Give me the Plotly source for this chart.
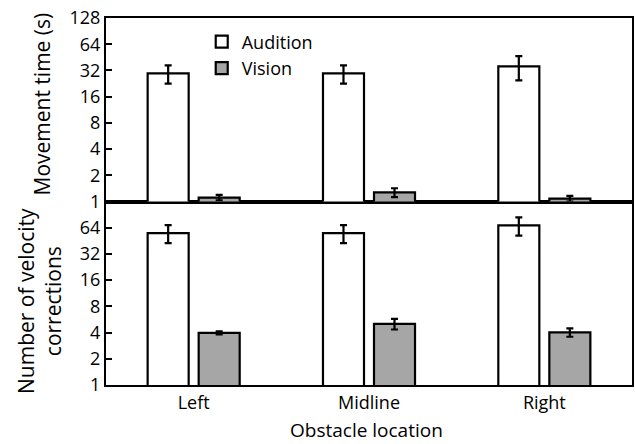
import plotly.graph_objects as go

categories = ["Left", "Midline", "Right"]
tick_vals = [1, 2, 4, 8, 16, 32, 64, 128]
tick_text_top = ["1", "2", "4", "8", "16", "32", "64", "128"]
tick_text_bottom = ["1", "2", "4", "8", "16", "32", "64", ""]

mt_audition = [29.6, 29.6, 35.6]
mt_audition_err = [7.0, 7.0, 11.0]
mt_vision = [1.11, 1.27, 1.08]
mt_vision_err = [0.08, 0.15, 0.08]

vc_audition = [55.6, 55.6, 68.0]
vc_audition_err = [13.0, 13.0, 16.0]
vc_vision = [3.97, 5.04, 4.03]
vc_vision_err = [0.15, 0.7, 0.45]

FONT = "Open Sans"
BLACK = "#000000"
GRAY = "#a6a6a6"

def bar(name, y, err, fill, xa, ya, show):
    return go.Bar(
        name=name, x=categories, y=y, xaxis=xa, yaxis=ya,
        marker=dict(color=fill, line=dict(color=BLACK, width=2.2)),
        error_y=dict(type="data", array=err, visible=True, color=BLACK,
                     thickness=2.2, width=3.5),
        showlegend=show, legendgroup=name,
    )

fig = go.Figure()
fig.add_trace(bar("Audition", mt_audition, mt_audition_err, "#ffffff", "x2", "y2", True))
fig.add_trace(bar("Vision", mt_vision, mt_vision_err, GRAY, "x2", "y2", True))
fig.add_trace(bar("Audition", vc_audition, vc_audition_err, "#ffffff", "x", "y", False))
fig.add_trace(bar("Vision", vc_vision, vc_vision_err, GRAY, "x", "y", False))

yax_common = dict(
    type="log", range=[0, 2.10721], tickvals=tick_vals,
    showline=True, linecolor=BLACK, linewidth=2.2, mirror=True,
    ticks="inside", ticklen=6, tickwidth=1.5, tickcolor=BLACK,
    showgrid=False, zeroline=False, automargin=False,
    tickfont=dict(family=FONT, size=18, color=BLACK),
)
xax_common = dict(
    showline=True, linecolor=BLACK, linewidth=2.2, mirror=True,
    showgrid=False, zeroline=False, ticks="", automargin=False,
    tickfont=dict(family=FONT, size=18, color=BLACK),
)

fig.update_layout(
    width=635, height=444,
    margin=dict(l=106, r=3, t=18, b=59),
    paper_bgcolor="white", plot_bgcolor="white",
    barmode="group", bargap=0.418, bargroupgap=0.196,
    font=dict(family=FONT, size=18, color=BLACK),
    xaxis=dict(**xax_common, anchor="y"),
    xaxis2=dict(**xax_common, anchor="y2", matches="x", showticklabels=False),
    yaxis=dict(**yax_common, domain=[0, 0.5], anchor="x", ticktext=tick_text_bottom),
    yaxis2=dict(**yax_common, domain=[0.5, 1], anchor="x2", ticktext=tick_text_top),
    legend=dict(x=0.182, y=0.985, xanchor="left", yanchor="top",
                bgcolor="rgba(0,0,0,0)", borderwidth=0,
                font=dict(family=FONT, size=18, color=BLACK),
                traceorder="grouped", tracegroupgap=0, itemwidth=30),
    annotations=[
        dict(text="Obstacle location", x=0.4953, y=-0.1226, xref="paper", yref="paper",
             xanchor="center", yanchor="middle", showarrow=False,
             font=dict(family=FONT, size=19, color=BLACK)),
        dict(text="Movement time (s)", x=-0.1217, y=0.767, xref="paper", yref="paper",
             xanchor="center", yanchor="middle", showarrow=False, textangle=-90,
             font=dict(family=FONT, size=21, color=BLACK)),
        dict(text="Number of velocity<br>corrections", x=-0.1255, y=0.229,
             xref="paper", yref="paper",
             xanchor="center", yanchor="middle", showarrow=False, textangle=-90,
             font=dict(family=FONT, size=21, color=BLACK)),
    ],
)

fig.write_html(
    "out.html",
    config={"displayModeBar": False},
    post_script="document.body.style.margin='0';document.body.style.padding='0';"
                "document.documentElement.style.overflow='hidden';",
)
